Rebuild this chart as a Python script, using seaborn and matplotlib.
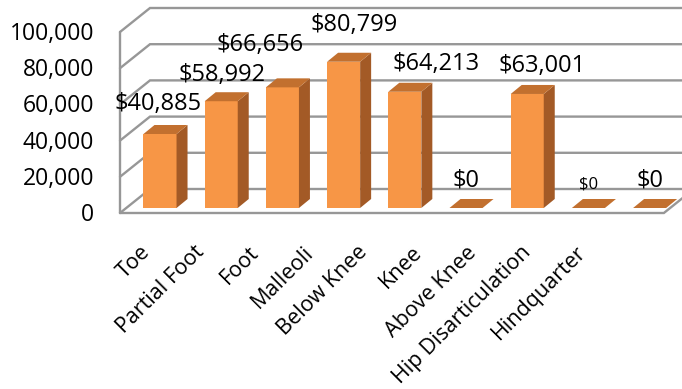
import matplotlib
matplotlib.use("Agg")
import matplotlib.pyplot as plt
import seaborn as sns
import pandas as pd
from matplotlib.patches import Polygon
from matplotlib.transforms import IdentityTransform, ScaledTranslation

# Average cost by amputation level
categories = ["Toe", "Partial Foot", "Foot", "Malleoli", "Below Knee",
              "Knee", "Above Knee", "Hip Disarticulation", "Hindquarter"]
costs = [40885, 58992, 66656, 80799, 64213, 0, 63001, 0, 0]
y_ticks = [0, 20000, 40000, 60000, 80000, 100000]
y_tick_labels = ["0", "20,000", "40,000", "60,000", "80,000", "100,000"]

# Styling
FRONT = "#F79646"
SIDE = "#A35A26"
TOP = "#C2702F"
GRID = "#979797"
FONT = ["Open Sans", "DejaVu Sans"]

sns.set_theme(style="white")
plt.rcParams["font.family"] = FONT

DPI = 100
fig = plt.figure(figsize=(6.82, 3.89), dpi=DPI)
fig.patch.set_facecolor("white")
ax = fig.add_axes([126 / 682, 181 / 389, 550 / 682, 181 / 389])

df = pd.DataFrame({"level": categories, "cost": costs})
sns.barplot(data=df, x="level", y="cost", color=FRONT, saturation=1,
            width=0.54, ax=ax, linewidth=0, zorder=3)

x0, x1 = -0.5556, 8.431
ax.set_xlim(x0, x1)
ax.set_ylim(0, 100000)
ax.axis("off")

def px(dx, dy):
    """Offset by screen pixels (dy positive = up)."""
    return ScaledTranslation(dx / DPI, dy / DPI, fig.dpi_scale_trans)

# Projection of the chart box: front plane and back wall relative to bar plane
FRONT_OFF = (-6, -5)
BACK_OFF = (24, 19)
BAR_DEPTH = (11, 9)

def disp(x, y, off=(0, 0)):
    X, Y = ax.transData.transform((x, y))
    return (X + off[0], Y + off[1])

def edge(points, lw=1.7):
    xs, ys = zip(*points)
    ax.add_line(plt.Line2D(xs, ys, transform=IdentityTransform(), color=GRID,
                           lw=lw, zorder=1, clip_on=False,
                           solid_joinstyle="miter"))

# Walls: gridlines run along the left wall then across the back wall
for v in y_ticks:
    edge([disp(x0, v, FRONT_OFF), disp(x0, v, BACK_OFF), disp(x1 + 1, v, BACK_OFF)])

# Left wall front edge and floor edges
edge([disp(x0, 0, FRONT_OFF), disp(x0, 100000, FRONT_OFF)])
edge([disp(x0, 0, FRONT_OFF), disp(x1 - 0.1, 0, FRONT_OFF),
      disp(x1 - 0.1, 0, BACK_OFF)])

# Side and top faces of each bar
for p in ax.patches[:len(costs)]:
    bx, bw, bh = p.get_x(), p.get_width(), p.get_height()
    dx, dy = BAR_DEPTH
    br = disp(bx + bw, 0)
    tl = disp(bx, bh); tr = disp(bx + bw, bh)
    side = [br, (br[0] + dx, br[1] + dy), (tr[0] + dx, tr[1] + dy), tr]
    top = [tl, tr, (tr[0] + dx, tr[1] + dy), (tl[0] + dx, tl[1] + dy)]
    ax.add_patch(Polygon(side, closed=True, transform=IdentityTransform(),
                         facecolor=SIDE, edgecolor="none", zorder=4, clip_on=False))
    ax.add_patch(Polygon(top, closed=True, transform=IdentityTransform(),
                         facecolor=TOP, edgecolor="none", zorder=4, clip_on=False))

# Value labels
label_offsets = [(-1.5, 30), (1, 26), (-22, 42), (11, 37), (31, 28),
                 (0, 27), (15, 28), (0, 24), (0, 27)]
label_sizes = [17, 17, 17, 17, 17, 17, 17, 12, 17]
for i, (v, off, fs) in enumerate(zip(costs, label_offsets, label_sizes)):
    ax.text(i, v, f"${v:,.0f}", ha="center", va="center", fontsize=fs,
            color="black", transform=ax.transData + px(*off), zorder=6,
            clip_on=False)

# Y axis labels beside the front-left edge
for v, lab in zip(y_ticks, y_tick_labels):
    ax.text(x0, v, lab, ha="right", va="center", fontsize=16.5, color="black",
            transform=ax.transData + px(-32, -7), clip_on=False)

# Category labels, rotated
for i, lab in enumerate(categories):
    ax.text(i, 0, lab, ha="right", va="top", rotation=45, fontsize=15.5,
            color="black", transform=ax.transData + px(-6 - 6.7 * i, -34),
            clip_on=False)

fig.savefig("out.png", dpi=DPI, facecolor="white")
